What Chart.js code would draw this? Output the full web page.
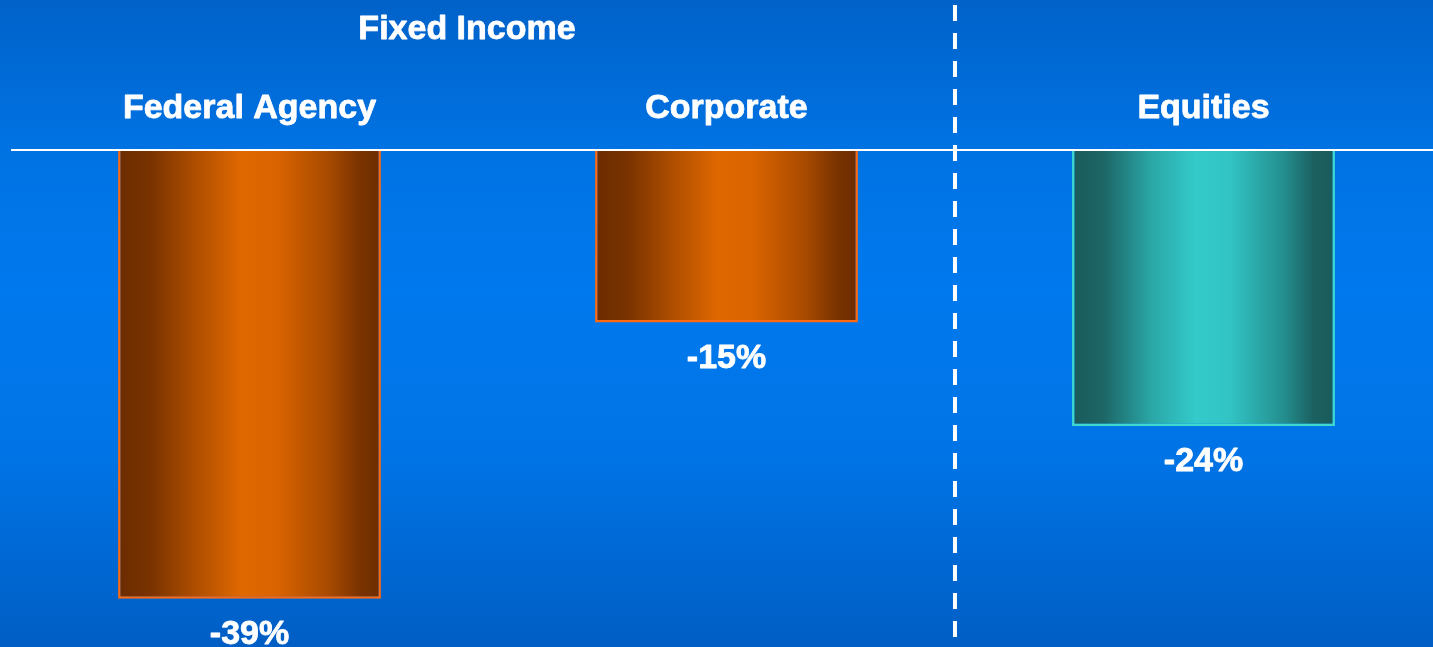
<!DOCTYPE html>
<html>
<head>
<meta charset="utf-8">
<script src="https://cdn.jsdelivr.net/npm/chart.js@4/dist/chart.umd.min.js"></script>
<style>
  html, body { margin: 0; padding: 0; overflow: hidden; }
  body {
    width: 1433px; height: 647px;
    background: linear-gradient(to bottom, #0062c9 0%, #0072e2 22%, #0079ee 45%, #0074e6 70%, #005ec4 100%);
  }
  #wrap { position: absolute; left: 0; top: 0; width: 1450px; height: 647px; }
</style>
</head>
<body>
<div id="wrap"><canvas id="grafico"></canvas></div>
<script>
/* Categorias e valores (%) */
const categorias = ['Federal Agency', 'Corporate', 'Equities'];
const valores = [-39, -15, -24];
const rotulos = ['-39%', '-15%', '-24%'];
const grupo = 'Fixed Income';
const tipoBarra = ['laranja', 'laranja', 'turquesa'];

const larguraBarra = 0.551;
const fonte = 'bold 34px Arial, "Liberation Sans", Helvetica, sans-serif';

/* Paletas do degradê horizontal de cada barra */
const paletas = {
  laranja: {
    borda: '#ff6a10',
    paradas: [[0, '#6c2c00'], [0.12, '#783200'], [0.3, '#b04f00'], [0.47, '#e06800'], [0.6, '#da6400'], [0.8, '#a84a00'], [0.92, '#7a3300'], [1, '#6c2c00']]
  },
  turquesa: {
    borda: '#3ed8d0',
    paradas: [[0, '#1a5a5a'], [0.12, '#1d6666'], [0.3, '#2aa6a6'], [0.47, '#34caca'], [0.6, '#32c4c4'], [0.8, '#249090'], [0.92, '#1c6060'], [1, '#1a5a5a']]
  }
};

function degrade(ctx) {
  const chart = ctx.chart;
  const x = chart.scales.x;
  const p = paletas[tipoBarra[ctx.dataIndex]];
  if (!x || x.width === undefined) return p.paradas[3][1];
  const centro = x.getPixelForValue(ctx.dataIndex);
  const meia = (x.width / categorias.length) * larguraBarra / 2;
  const g = chart.ctx.createLinearGradient(centro - meia, 0, centro + meia, 0);
  p.paradas.forEach(s => g.addColorStop(s[0], s[1]));
  return g;
}

/* Texto branco um pouco mais encorpado */
function escrever(c, texto, px, py) {
  c.fillText(texto, px, py);
  c.strokeText(texto, px, py);
}

/* Linha do zero, divisória tracejada e textos */
const decoracao = {
  id: 'decoracao',
  afterDatasetsDraw(chart) {
    const c = chart.ctx;
    const x = chart.scales.x;
    const y = chart.scales.y;
    const zero = y.getPixelForValue(0);

    c.save();
    c.strokeStyle = '#ffffff';
    c.lineWidth = 2;
    c.beginPath();
    c.moveTo(chart.chartArea.left, zero);
    c.lineTo(1433, zero);
    c.stroke();

    const xDiv = x.getPixelForValue(1.479);
    c.lineWidth = 4;
    c.setLineDash([16, 12]);
    c.beginPath();
    c.moveTo(xDiv, 5);
    c.lineTo(xDiv, chart.height);
    c.stroke();
    c.setLineDash([]);

    c.fillStyle = '#ffffff';
    c.lineWidth = 0.8;
    c.lineJoin = 'round';
    c.font = fonte;
    c.textAlign = 'center';
    c.textBaseline = 'alphabetic';
    escrever(c, grupo, x.getPixelForValue(0.456), 39);
    categorias.forEach((nome, i) => {
      escrever(c, nome, x.getPixelForValue(i), 118);
    });

    const meta = chart.getDatasetMeta(0);
    meta.data.forEach((barra, i) => {
      escrever(c, rotulos[i], barra.x, barra.y + 45);
    });
    c.restore();
  }
};

new Chart(document.getElementById('grafico'), {
  type: 'bar',
  data: {
    labels: categorias,
    datasets: [{
      data: valores,
      backgroundColor: degrade,
      borderColor: tipoBarra.map(t => paletas[t].borda),
      borderWidth: 2.5,
      categoryPercentage: 1,
      barPercentage: larguraBarra
    }]
  },
  options: {
    responsive: true,
    maintainAspectRatio: false,
    animation: false,
    events: [],
    layout: { padding: { left: 11, top: 150, right: 8, bottom: 0 } },
    scales: {
      x: { display: false },
      y: { display: false, min: -43.2, max: 0 }
    },
    plugins: {
      legend: { display: false },
      tooltip: { enabled: false }
    }
  },
  plugins: [decoracao]
});
</script>
</body>
</html>
